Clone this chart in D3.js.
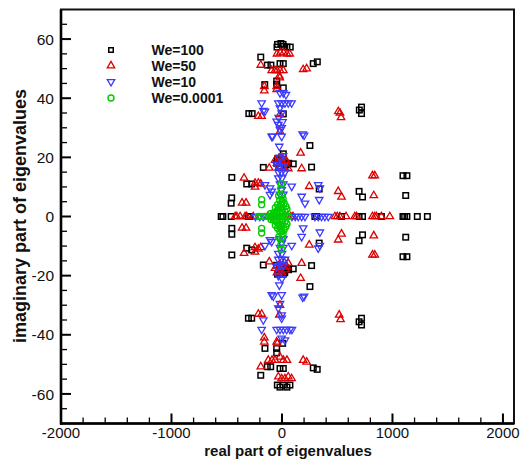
<!DOCTYPE html>
<html><head><meta charset="utf-8">
<script src="https://cdn.jsdelivr.net/npm/d3@7/dist/d3.min.js"></script>
<style>body{margin:0;background:#fff}svg{display:block}</style>
</head><body>
<svg id="c" width="520" height="459"></svg>
<script>
// ---- data ----
const xTicks = [-2000, -1000, 0, 1000, 2000];
const yTicks = [-60, -40, -20, 0, 20, 40, 60];
const legendLabels = ["We=100", "We=50", "We=10", "We=0.0001"];

const we100 = [
 [-40,58.2],[-10,58.5],[10,58.2],[-45,57.3],[15,57.5],[45,57.3],[75,57.3],
 [283,51.7],[320,52.3],[-192,53.9],[-133,51.2],[-100,51.2],[-18,51.7],[12,51.7],
 [-156,44.6],[-48,45.8],[-48,44.6],[12,43.5],[-300,34.8],[-270,34.8],[12,34.7],
 [700,36],[720,37],[720,34.8],[253,24],[268,16.7],[12,21.2],
 [-169,16.6],[-48,18],[-20,19],[10,18.5],[40,17.5],[102,17.8],[-30,16.5],[25,16.5],[-40,19.5],[60,18],
 [-454,13.2],[-319,11],[-274,11],[-460,4.5],[-455,6.3],[337,9.3],
 [1095,13.8],[1131,13.8],[698,8.5],[729,6.6],[1120,7.1],
 [-550,0],[-535,0],[-460,0],[-305,0],[-290,0],[298,0],[313,0],[539,0],[698,0],[729,0],
 [900,0],[1095,0],[1110,0],[1131,0],[1225,0],[1316,0],
 [-454,-4],[-454,-6],[-454,-13],[-319,-10.7],[-274,-11.3],[-169,-16.4],
 [-48,-16.5],[-20,-18],[10,-18.5],[40,-17.5],[-30,-19],[25,-19],[102,-17.7],[268,-16.6],[-40,-19.5],[60,-18],
 [253,-23.7],[337,-9],[12,-19.5],[729,-6.2],[698,-8.2],[1120,-7],[1095,-13.6],[1131,-13.6],
 [-304,-34.4],[-274,-34.4],[-154,-44.6],[-48,-44.6],[-48,-46.1],[6,-42.9],
 [-133,-50.8],[-102,-50.8],[-192,-53.7],[-18,-51.4],[12,-51.4],[283,-51.2],[319,-51.7],
 [-42,-57],[-18,-57.7],[12,-57],[45,-57.7],[72,-57],[698,-35.6],[720,-36.7],[720,-34.4]
];
const we50 = [
 [-45,55],[-15,55.4],[15,55.4],[45,55],[70,55],[-192,51.2],
 [-93,49.4],[-63,49.4],[-45,49.4],[-18,49.4],[12,49.4],[-24,47.5],[-20,46.9],
 [192,49.7],[223,50],[-160,44],[-160,42.5],[-48,44],[-48,43],
 [-214,33.9],[-184,33.9],[-18,34.5],[-18,28.8],[510,35.5],[525,35],[535,33.5],
 [169,21.5],[178,16.2],[247,10.2],[509,8.5],[539,6.6],[819,13.8],[840,13.8],[831,7.1],
 [-343,13],[-244,11.3],[-244,10],[-214,11.3],[-192,11],[-361,4.6],[-325,4.6],
 [-115,16.4],[-63,19],[-30,19.5],[0,20],[30,19],[45,18.5],[-20,17],[20,16.5],[57,16.2],[-45,18],[10,18],
 [-424,0],[-409,0],[-379,0],[-334,0],[-319,0],[-260,0],[-130,0],[-100,0],[-70,0],[-50,0],[20,0],[50,0],[80,0],[100,0],
 [479,0],[500,0],[524,0],[580,0],[659,0],[675,0],[819,0],[840,0],[855,0],[900,0],[976,0],
 [-361,-3.9],[-325,-3.9],[-343,-12.4],[-244,-10.5],[-244,-12],[-214,-11],[-192,-10.5],[-115,-15.3],
 [-63,-17.5],[-30,-18],[0,-19],[30,-18],[45,-17],[-20,-16],[20,-15.5],[57,-15.8],[-45,-19],[10,-17],
 [178,-15.8],[169,-20.9],[247,-9.6],[539,-5.9],[509,-7.9],[831,-6.5],[819,-13],[840,-13],
 [-18,-30],[-24,-33.3],[-214,-33],[-184,-33],[-160,-42.4],[-160,-41],[-48,-42.4],[-42,-42.9],
 [-124,-48.6],[-90,-48.6],[-63,-48.6],[-18,-47.5],[12,-48.6],[45,-48.6],
 [-192,-50.8],[192,-48.6],[223,-49.2],
 [-33,-54.2],[-3,-54.8],[27,-54.8],[57,-54.2],[87,-54.8],[518,-33.3],[530,-34.8]
];
const we10 = [
 [-18,41.8],[12,41.8],[36,41.2],[-184,38.4],[-169,35.8],[-154,35.6],
 [-33,38.4],[-3,38.4],[27,38.4],[57,38.4],[87,38.4],
 [-18,36.7],[-3,35],[-48,32.2],[-33,31.1],[-3,30],[-18,29.4],[-30,33.5],[5,32],
 [187,27.9],[200,27.5],[-93,27.1],[-84,27.1],[-3,27.1],[-24,23.7],
 [-48,17.5],[-18,17],[12,17],[-33,15],[-3,15],[27,15],[-33,13],[0,13],[-18,11],[12,11],
 [-3,9],[-18,7.5],[12,7.5],[-154,10.7],[-108,9.6],[-93,8.5],[-108,7.4],[88,10.2],[-20,20],[10,20.5],
 [178,6.8],[208,4.5],[328,10.7],[343,9.6],[337,5.7],
 [-240,0],[-200,0],[-170,0],[90,0],[120,0],[147,0],[178,0],[208,0],[298,0],[328,0],[358,0],[388,0],[419,0],
 [192,-3.9],[178,-6.8],[343,-5.3],[328,-10.7],[343,-9.8],
 [-108,-7.9],[-154,-9.8],[-93,-8.5],[88,-9.8],
 [-48,-17],[-18,-16.5],[12,-16.5],[-33,-14.5],[-3,-14.5],[27,-14.5],[-33,-12.5],[0,-12.5],
 [-18,-10.5],[12,-10.5],[-3,-9],[-18,-7.5],[12,-7.5],[-33,-20],[0,-21],
 [-24,-23.2],[-93,-26.5],[-3,-26.5],[-78,-26.9],[187,-27.3],[200,-27],
 [-18,-29.4],[-33,-31],[-3,-33.3],[-3,-34.4],[-169,-35],[-184,-38.2],
 [-48,-38.2],[-18,-38.2],[12,-38.2],[42,-38.2],[72,-38.2],[90,-38.2],
 [-3,-41.2],[27,-41.8]
];
const we0001 = [
 [-184,5.7],[-184,4],[-184,-4],[-184,-5.6],
 [-214,0],[-190,0],[-160,0],[-120,0],[-90,0],[-60,0],[-40,0],[-20,0],[0,0],[20,0],[40,0],[60,0],
 [-20,5.5],[-20,-5],[0,2],[0,-2],[-30,3],[10,3],[-30,-3],[10,-3],[0,7],[0,-7],
 [-10,9.5],[-10,-9.5],[0,5],[0,-5],[-50,1.5],[-50,-1.5],[30,1.5],[30,-1.5],
 [-10,4],[-10,-4],[-60,3],[-60,-3],[20,4.5],[20,-4.5],
 [-75,1.2],[-75,-1.2],[-40,4],[-40,-4],[45,2.5],[45,-2.5],[-20,1],[-20,-1],[10,6],[10,-6],
 [-100,1],[-100,-1],[-5,11],[-5,-11],[-30,7],[-30,-7],
 [-45,2],[-45,-2],[-15,3],[-15,-3],[5,1],[5,-1],[35,3.5],[35,-3.5],[-65,0.5],[-85,-0.5]
];

// ---- chart ----
const svg = d3.select("#c");
const L = 61, R = 514, T = 9.5, B = 423.5;
const x = d3.scaleLinear().domain([-2000, 2100]).range([L, R]);
const y = d3.scaleLinear().domain([-70, 70]).range([B, T]);
const FONT = "'Liberation Sans', Arial, Helvetica, sans-serif";

const colors = ["#000000", "#dd0000", "#3a3aff", "#00cc00"];
const series = [we100, we50, we10, we0001];

const g = svg.append("g");
const tri = d3.symbol().type(d3.symbolTriangle).size(24);

function drawMarker(sel, k, cx, cy, legend) {
  if (k === 0) {
    const s = legend ? 4.5 : 5.5;
    sel.append("rect").attr("x", cx - s/2).attr("y", cy - s/2).attr("width", s).attr("height", s)
      .attr("fill", "none").attr("stroke", colors[0]).attr("stroke-width", 1.5);
  } else if (k === 1) {
    sel.append("path").attr("d", tri()).attr("transform", `translate(${cx},${cy})`)
      .attr("fill", "none").attr("stroke", colors[1]).attr("stroke-width", 1.3);
  } else if (k === 2) {
    sel.append("path").attr("d", tri()).attr("transform", `translate(${cx},${cy}) rotate(180)`)
      .attr("fill", "none").attr("stroke", colors[2]).attr("stroke-width", 1.3);
  } else {
    sel.append("circle").attr("cx", cx).attr("cy", cy).attr("r", 3)
      .attr("fill", "none").attr("stroke", colors[3]).attr("stroke-width", 1.4);
  }
}

series.forEach((data, k) => {
  const gs = g.append("g");
  data.forEach(d => drawMarker(gs, k, x(d[0]), y(d[1]), false));
});

// frame
svg.append("rect").attr("x", L).attr("y", T).attr("width", R - L).attr("height", B - T)
  .attr("fill", "none").attr("stroke", "#111").attr("stroke-width", 2);
svg.append("line").attr("x1", L).attr("x2", L).attr("y1", T).attr("y2", B + 1)
  .attr("stroke", "#000").attr("stroke-width", 2.6);
svg.append("line").attr("x1", L - 1).attr("x2", R).attr("y1", B).attr("y2", B)
  .attr("stroke", "#000").attr("stroke-width", 2.6);

// ticks
const ax = svg.append("g");
d3.range(-2000, 2001, 200).forEach(v => {
  const major = v % 1000 === 0;
  ax.append("line").attr("x1", x(v)).attr("x2", x(v)).attr("y1", B).attr("y2", B - (major ? 10 : 6))
    .attr("stroke", "#000").attr("stroke-width", major ? 2 : 1.3);
});
d3.range(-65, 70, 5).forEach(v => {
  const major = v % 20 === 0;
  ax.append("line").attr("x1", L).attr("x2", L + (major ? 10 : 6)).attr("y1", y(v)).attr("y2", y(v))
    .attr("stroke", "#000").attr("stroke-width", major ? 2 : 1.3);
});
xTicks.forEach(v => {
  ax.append("text").attr("x", x(v)).attr("y", 438).attr("text-anchor", "middle")
    .attr("font-family", FONT).attr("font-size", 15).attr("fill", "#111").text(v);
});
yTicks.forEach(v => {
  ax.append("text").attr("x", 54).attr("y", y(v)).attr("dy", "0.36em").attr("text-anchor", "end")
    .attr("font-family", FONT).attr("font-size", 15.5).attr("fill", "#111").text(v);
});

// axis titles
svg.append("text").attr("x", 288).attr("y", 455.5).attr("text-anchor", "middle")
  .attr("font-family", FONT).attr("font-weight", "bold").attr("font-size", 15).attr("fill", "#111")
  .text("real part of eigenvalues");
svg.append("text").attr("transform", "translate(26,216) rotate(-90)").attr("text-anchor", "middle")
  .attr("font-family", FONT).attr("font-weight", "bold").attr("font-size", 18).attr("fill", "#111")
  .text("imaginary part of eigenvalues");

// legend
const lg = svg.append("g");
const rowsY = [50, 65.7, 81.7, 98];
legendLabels.forEach((lab, k) => {
  drawMarker(lg, k, 111, rowsY[k], true);
  lg.append("text").attr("x", 151.5).attr("y", rowsY[k] + 4.8)
    .attr("font-family", FONT).attr("font-weight", "bold").attr("font-size", 14).attr("fill", "#111").text(lab);
});
</script>
</body></html>
